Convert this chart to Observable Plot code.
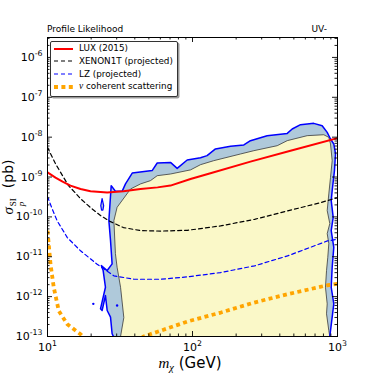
<!DOCTYPE html>
<html>
<head>
<meta charset="utf-8">
<script src="https://cdn.jsdelivr.net/npm/d3@7"></script>
<script src="https://cdn.jsdelivr.net/npm/@observablehq/plot@0.6"></script>
<style>
html,body{margin:0;padding:0;background:#fff;}
#wrap{position:relative;width:374px;height:374px;overflow:hidden;font-family:"DejaVu Sans",sans-serif;color:#000;}
#wrap > svg{position:absolute;left:0;top:0;}
.ov{position:absolute;white-space:nowrap;line-height:1;}
.math{font-family:"Liberation Serif","DejaVu Serif",serif;font-style:italic;}
#legend{position:absolute;left:50px;top:41px;width:128px;height:56px;background:#fff;border:1px solid #333;border-radius:2px;box-shadow:1.5px 1.5px 0 #999;box-sizing:border-box;}
.row{position:absolute;left:0;height:12px;width:100%;}
.row svg{position:absolute;left:3px;top:0;}
.row span.lab{position:absolute;left:28px;top:1.6px;font-size:8.8px;line-height:1;white-space:nowrap;}
</style>
</head>
<body>
<div id="wrap"></div>
<script>
// ---------- data ----------
const xDomain = [10, 1000];
const yDomain = [1e-13, 3.16e-6];

const xTickValues = [10, 100, 1000];
const xTickLabels = ["10^1", "10^2", "10^3"];
const yTickValues = [1e-13, 1e-12, 1e-11, 1e-10, 1e-9, 1e-8, 1e-7, 1e-6];
const yTickLabels = ["10^-13", "10^-12", "10^-11", "10^-10", "10^-9", "10^-8", "10^-7", "10^-6"];

// outer (blue) contour
const outerMass = [28.5, 27.9, 27.2, 25.8, 25.1, 23.8, 23.2, 25.1, 24.2, 23.5, 25.8, 27.9, 27.2, 26.5, 27.5, 29.4, 32.7, 34.5, 38.4, 52.7, 57.1, 70.5, 78.4, 91.9, 113.6, 126, 144, 183, 226, 251, 327, 450, 487, 556, 686, 784, 849, 895, 943, 969, 953, 919, 905, 934, 905, 943, 919, 905, 943, 919, 895, 885];
const outerSigma = [1e-13, 1.17e-13, 3.05e-13, 4.49e-13, 1.06e-12, 4.49e-13, 4.95e-13, 1.72e-12, 4.51e-12, 6.0e-12, 4.51e-12, 6.63e-12, 2.55e-11, 8.07e-11, 6.08e-10, 4.38e-10, 4.38e-10, 6.71e-10, 1.26e-9, 1.45e-9, 2.25e-9, 2.33e-9, 1.65e-9, 2.68e-9, 3.06e-9, 3.44e-9, 5.06e-9, 5.88e-9, 6.37e-9, 8.17e-9, 1.09e-8, 1.24e-8, 1.60e-8, 2.06e-8, 2.22e-8, 1.94e-8, 1.32e-8, 9.0e-9, 6.75e-9, 3.85e-9, 1.45e-9, 4.56e-10, 2.56e-10, 9.77e-11, 4.53e-11, 1.73e-11, 5.46e-12, 1.72e-12, 6.59e-13, 3.05e-13, 1.41e-13, 1e-13];

// inner (grey) contour
const innerMass = [31.9, 33.6, 31.9, 30.2, 29.4, 28.7, 30.2, 37.4, 43.8, 51.3, 57.1, 70.5, 96.9, 113.6, 140, 214, 265, 384, 450, 618, 804, 871, 895, 919, 895, 871, 849, 885, 849, 871, 857, 840, 826, 849, 840, 871, 885];
const innerSigma = [1e-13, 2.99e-13, 1.72e-12, 5.46e-12, 1.20e-11, 8.07e-11, 1.74e-10, 5.02e-10, 6.71e-10, 8.11e-10, 1.08e-9, 1.19e-9, 1.51e-9, 2.04e-9, 2.57e-9, 3.78e-9, 4.58e-9, 6.11e-9, 8.17e-9, 1.09e-8, 1.15e-8, 9.9e-9, 6.75e-9, 2.57e-9, 9.8e-10, 3.77e-10, 1.44e-10, 6.79e-11, 3.81e-11, 2.14e-11, 9.7e-12, 4.51e-12, 1.72e-12, 6.59e-13, 3.71e-13, 1.41e-13, 1e-13];

// small isolated blue contours
const islandMass = [23.8, 24.4, 24.1, 23.6, 23.3, 23.8];
const islandSigma = [2.87e-10, 1.92e-10, 1.48e-10, 1.48e-10, 1.92e-10, 2.87e-10];
const spotMass = [20.7, 30.2];
const spotSigma = [6.59e-13, 5.98e-13];

// LUX (2015)
const luxMass = [10, 11.35, 12.7, 14.4, 16.9, 19.8, 25.8, 33.4, 43.8, 57.4, 70.5, 96.9, 133, 251, 474, 1000];
const luxSigma = [1.31e-9, 9.7e-10, 7.7e-10, 6.1e-10, 5.0e-10, 4.4e-10, 4.1e-10, 4.4e-10, 5.0e-10, 5.5e-10, 6.1e-10, 8.95e-10, 1.24e-9, 2.43e-9, 4.58e-9, 9.5e-9];

// XENON1T (projected)
const xenonMass = [10, 11.35, 12.7, 13.96, 16.9, 19.8, 23.2, 27.2, 33.4, 43.8, 60.1, 92.4, 156, 268, 452, 764, 1000];
const xenonSigma = [5.55e-9, 2.16e-9, 1.08e-9, 6.1e-10, 2.87e-10, 1.71e-10, 1.08e-10, 7.6e-11, 5.4e-11, 4.53e-11, 4.41e-11, 4.61e-11, 5.94e-11, 8.7e-11, 1.41e-10, 2.28e-10, 3.04e-10];

// LZ (projected)
const lzMass = [10, 10.83, 11.67, 13.7, 16.9, 22.0, 28.7, 39.4, 60.1, 92.4, 156, 268, 452, 853, 1000];
const lzSigma = [3.22e-10, 1.52e-10, 7.9e-11, 3.03e-11, 1.41e-11, 6.5e-12, 3.32e-12, 2.73e-12, 2.73e-12, 3.13e-12, 4.02e-12, 5.92e-12, 1.05e-11, 2.5e-11, 2.74e-11];

// neutrino coherent scattering
const nuMass = [10, 10.49, 11.05, 11.96, 13.7, 16.9, 19.8, 27, 37, 45.9, 60.1, 92.4, 157, 266, 452, 853, 1000];
const nuSigma = [4.5e-11, 6.5e-12, 1.69e-12, 4.4e-13, 2.03e-13, 1.14e-13, 6e-14, 4e-14, 5e-14, 1e-13, 1.39e-13, 2.38e-13, 3.99e-13, 7.1e-13, 1.15e-12, 1.93e-12, 2.1e-12];

// ---------- build ----------
const zip = (ms, ss) => ms.map((m, i) => ({m, s: ss[i]}));
const outer = zip(outerMass, outerSigma);
const inner = zip(innerMass, innerSigma);
const island = zip(islandMass, islandSigma);
const spots = zip(spotMass, spotSigma);
const lux = zip(luxMass, luxSigma);
const xenon = zip(xenonMass, xenonSigma);
const lz = zip(lzMass, lzSigma);
const nu = zip(nuMass, nuSigma);

const W = 374, H = 374, mL = 47, mR = 37, mT = 37, mB = 38;
const pW = W - mL - mR, pH = H - mT - mB;
const majLen = 5, minLen = 2.5;

const xMinor = [];
for (const d of [10, 100]) for (let k = 2; k <= 9; k++) xMinor.push(k * d);
const yMinor = [];
for (let e = -13; e <= -6; e++) for (let k = 2; k <= 9; k++) { const v = k * Math.pow(10, e); if (v < yDomain[1]) yMinor.push(v); }

const tickStyle = {stroke: "black", strokeWidth: 0.9};

const chart = Plot.plot({
  width: W, height: H,
  marginLeft: mL, marginRight: mR, marginTop: mT, marginBottom: mB,
  x: {type: "log", domain: xDomain, axis: null},
  y: {type: "log", domain: yDomain, axis: null},
  style: {fontFamily: "DejaVu Sans", background: "white", overflow: "visible"},
  marks: [
    Plot.line(outer, {x: "m", y: "s", fill: "#afc9da", stroke: "none", clip: true}),
    Plot.line(inner, {x: "m", y: "s", fill: "#faf8c8", stroke: "#3a3a3a", strokeWidth: 0.8, clip: true}),
    Plot.line(outer, {x: "m", y: "s", stroke: "blue", strokeWidth: 1.5, clip: true}),
    Plot.line(island, {x: "m", y: "s", stroke: "blue", strokeWidth: 1.2, fill: "#afc9da"}),
    Plot.dot(spots, {x: "m", y: "s", r: 1.2, fill: "blue", stroke: "none"}),
    Plot.line(nu, {x: "m", y: "s", stroke: "orange", strokeWidth: 3.8, strokeDasharray: "4,3.4", strokeLinecap: "butt", clip: true}),
    Plot.line(lz, {x: "m", y: "s", stroke: "blue", strokeWidth: 1.2, strokeDasharray: "4,3", clip: true}),
    Plot.line(xenon, {x: "m", y: "s", stroke: "black", strokeWidth: 1.2, strokeDasharray: "4,3", clip: true}),
    Plot.line(lux, {x: "m", y: "s", stroke: "red", strokeWidth: 2, clip: true}),
    // ticks (inside, all four sides)
    Plot.tickX(xTickValues, {x: d => d, insetTop: pH - majLen, ...tickStyle}),
    Plot.tickX(xTickValues, {x: d => d, insetBottom: pH - majLen, ...tickStyle}),
    Plot.tickX(xMinor, {x: d => d, insetTop: pH - minLen, ...tickStyle}),
    Plot.tickX(xMinor, {x: d => d, insetBottom: pH - minLen, ...tickStyle}),
    Plot.tickY(yTickValues, {y: d => d, insetRight: pW - majLen, ...tickStyle}),
    Plot.tickY(yTickValues, {y: d => d, insetLeft: pW - majLen, ...tickStyle}),
    Plot.tickY(yMinor, {y: d => d, insetRight: pW - minLen, ...tickStyle}),
    Plot.tickY(yMinor, {y: d => d, insetLeft: pW - minLen, ...tickStyle}),
    Plot.frame({stroke: "black", strokeWidth: 1}),
    // tick labels
    Plot.text(xTickValues, {x: d => d, text: (d, i) => xTickLabels[i], frameAnchor: "bottom", lineAnchor: "top", dy: 7, fontSize: 11, fill: "black"}),
    Plot.text(yTickValues, {y: d => d, text: (d, i) => yTickLabels[i], frameAnchor: "left", textAnchor: "end", dx: -5, fontSize: 11, fill: "black"})
  ]
});

// superscripts in tick labels
const NS = "http://www.w3.org/2000/svg";
chart.querySelectorAll("text").forEach(t => {
  const s = t.textContent;
  if (!s.includes("^")) return;
  const parts = s.split("^");
  while (t.firstChild) t.removeChild(t.firstChild);
  const a = document.createElementNS(NS, "tspan");
  a.textContent = parts[0];
  const b = document.createElementNS(NS, "tspan");
  b.textContent = parts[1];
  b.setAttribute("font-size", "7.8");
  b.setAttribute("dy", "-5");
  t.appendChild(a); t.appendChild(b);
});

const wrap = document.getElementById("wrap");
wrap.appendChild(chart);

wrap.insertAdjacentHTML("beforeend", `
<div class="ov" style="left:47px;top:25.4px;font-size:9px;">Profile Likelihood</div>
<div class="ov" style="right:47px;top:25.4px;font-size:9px;">UV-</div>
<div class="ov" style="left:45px;width:290px;top:357px;font-size:15px;line-height:12px;text-align:center;">
  <span class="math" style="font-size:15px">m</span><span class="math" style="font-size:10.5px;position:relative;top:3px;">χ</span>&nbsp;(GeV)
</div>
<div class="ov" style="left:13px;top:187px;font-size:14px;line-height:14px;transform:translate(-50%,-50%) rotate(-90deg);">
  <span class="math" style="font-size:15px">σ</span><span style="display:inline-flex;flex-direction:column;vertical-align:-3px;font-size:9px;line-height:8px;margin-left:1px;"><span style="font-family:'Liberation Serif',serif;">SI</span><span class="math">p</span></span><span style="margin-left:10px">(pb)</span>
</div>
<div id="legend">
  <div class="row" style="top:0.7px"><svg width="19" height="12"><line x1="0" x2="19" y1="6" y2="6" stroke="red" stroke-width="2"/></svg><span class="lab">LUX (2015)</span></div>
  <div class="row" style="top:13px"><svg width="19" height="12"><line x1="0" x2="19" y1="6" y2="6" stroke="black" stroke-width="1.2" stroke-dasharray="4,3"/></svg><span class="lab">XENON1T (projected)</span></div>
  <div class="row" style="top:26.3px"><svg width="19" height="12"><line x1="0" x2="19" y1="6" y2="6" stroke="blue" stroke-width="1.2" stroke-dasharray="4,3"/></svg><span class="lab">LZ (projected)</span></div>
  <div class="row" style="top:38.7px"><svg width="19" height="12"><line x1="0" x2="19" y1="6" y2="6" stroke="orange" stroke-width="3.8" stroke-dasharray="4,3.4"/></svg><span class="lab"><span class="math" style="font-size:9.5px">ν</span> coherent scattering</span></div>
</div>
`);
</script>
</body>
</html>
